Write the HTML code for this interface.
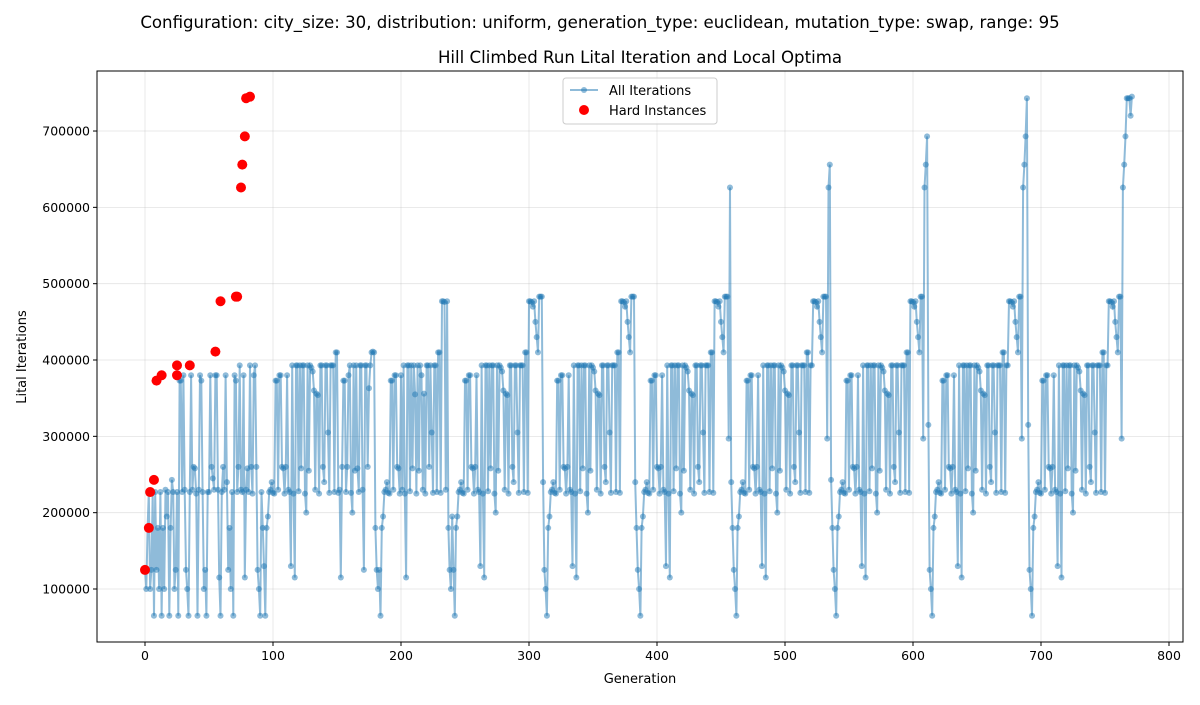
<!DOCTYPE html>
<html><head><meta charset="utf-8"><style>
body{margin:0;background:#fff;font-family:"Liberation Sans","DejaVu Sans",sans-serif}
svg text{font-family:"DejaVu Sans","Liberation Sans",sans-serif}
</style></head><body>
<svg id="chart" width="1200" height="700" xmlns="http://www.w3.org/2000/svg">
<rect width="1200" height="700" fill="#fff"/>
<text x="600" y="28" font-size="16.6" text-anchor="middle">Configuration: city_size: 30, distribution: uniform, generation_type: euclidean, mutation_type: swap, range: 95</text>
<text x="640" y="63" font-size="16.6" text-anchor="middle">Hill Climbed Run Lital Iteration and Local Optima</text>
<g id="grid"></g><g id="series"></g><g id="hard"></g><g id="axes"></g>
<text x="640" y="683" font-size="13" text-anchor="middle">Generation</text>
<text transform="translate(26,357) rotate(-90)" font-size="13" text-anchor="middle">Lital Iterations</text>
<g>
<rect x="563" y="78" width="154" height="46" rx="3" fill="#fff" fill-opacity="0.8" stroke="#ccc"/>
<line x1="570" y1="90" x2="598" y2="90" stroke="#1f77b4" stroke-opacity="0.5" stroke-width="2"/>
<circle cx="584" cy="90" r="3" fill="#1f77b4" fill-opacity="0.5"/>
<text x="609" y="95" font-size="13">All Iterations</text>
<circle cx="584" cy="110" r="5" fill="red"/>
<text x="609" y="115" font-size="13">Hard Instances</text>
</g>
</svg>
<script>
const allValuesK = [
125,100,180,227,100,125,227,65,227,125,180,100,227,65,180,100,230,195,227,65,180,243,227,100,125,227,65,373,373,227,380,230,125,100,65,227,380,230,260,258,225,65,230,380,373,227,100,125,65,227,227,380,260,245,230,380,380,230,115,65,227,260,230,380,240,125,180,100,227,65,380,373,227,260,393,230,227,380,115,230,258,227,393,260,225,380,393,260,125,100,65,227,180,130,
65,180,195,227,230,240,226,225,373,373,230,380,380,260,258,225,260,380,230,227,130,393,225,115,393,393,228,393,258,393,393,225,200,393,255,393,390,385,360,230,356,354,225,393,393,260,240,393,393,305,226,393,393,393,227,410,410,226,230,115,260,373,373,227,260,380,393,226,200,393,255,393,258,227,393,393,230,125,393,393,260,363,393,410,411,410,180,125,100,125,
65,180,195,227,230,240,226,225,373,373,230,380,380,260,258,225,380,230,393,225,115,393,393,228,393,258,393,355,225,393,255,393,380,230,356,225,393,393,260,393,305,226,393,393,227,410,410,226,477,477,476,230,477,180,125,100,195,125,
65,180,195,227,230,240,226,225,373,373,230,380,380,260,258,225,260,380,230,227,130,393,225,115,393,393,228,393,258,393,393,225,200,393,255,393,390,385,360,230,356,354,225,393,393,260,240,393,393,305,226,393,393,393,227,410,410,226,477,477,476,470,477,450,430,410,483,483,483,240,125,100,
65,180,195,227,230,240,226,225,373,373,230,380,380,260,258,225,260,380,230,227,130,393,225,115,393,393,228,393,258,393,393,225,200,393,255,393,390,385,360,230,356,354,225,393,393,260,240,393,393,305,226,393,393,393,227,410,410,226,477,477,476,470,477,450,430,410,483,483,483,240,180,125,100,
65,180,195,227,230,240,226,225,373,373,230,380,380,260,258,225,260,380,230,227,130,393,225,115,393,393,228,393,258,393,393,225,200,393,255,393,390,385,360,230,356,354,225,393,393,260,240,393,393,305,226,393,393,393,227,410,410,226,477,477,476,470,477,450,430,410,483,483,483,297,626,240,180,125,100,
65,180,195,227,230,240,226,225,373,373,230,380,380,260,258,225,260,380,230,227,130,393,225,115,393,393,228,393,258,393,393,225,200,393,255,393,390,385,360,230,356,354,225,393,393,260,240,393,393,305,226,393,393,393,227,410,410,226,393,393,477,477,476,470,477,450,430,410,483,483,483,297,626,656,243,180,125,100,
65,180,195,227,230,240,226,225,373,373,230,380,380,260,258,225,260,380,230,227,130,393,225,115,393,393,228,393,258,393,393,225,200,393,255,393,390,385,360,230,356,354,225,393,393,260,240,393,393,305,226,393,393,393,227,410,410,226,477,477,476,470,477,450,430,410,483,483,297,626,656,693,315,125,100,
65,180,195,227,230,240,226,225,373,373,230,380,380,260,258,225,260,380,230,227,130,393,225,115,393,393,228,393,258,393,393,225,200,393,255,393,390,385,360,230,356,354,225,393,393,260,240,393,393,305,226,393,393,393,227,410,410,226,393,393,477,477,476,470,477,450,430,410,483,483,297,626,656,693,743,315,125,100,
65,180,195,227,230,240,226,225,373,373,230,380,380,260,258,225,260,380,230,227,130,393,225,115,393,393,228,393,258,393,393,225,200,393,255,393,390,385,360,230,356,354,225,393,393,260,240,393,393,305,226,393,393,393,227,410,410,226,393,393,477,477,476,470,477,450,430,410,483,483,297,626,656,693,743,743,743,720,745
];
const hardGen = [0,3,4,7,9,13,25,25,35,55,59,71,72,75,76,78,79,82];
const hardValuesK = [125,180,227,243,373,380,393,380,393,411,477,483,483,626,656,693,743,745];
const xTicks = [0,100,200,300,400,500,600,700,800];
const yTicks = [100000,200000,300000,400000,500000,600000,700000];

const L=97,R=1183,T=71,B=642;
const xs=g=>145+g*1.28;
const ys=v=>589-(v-100000)*76.33/100000;
const NS='http://www.w3.org/2000/svg';
function mk(tag,attrs,parent){const e=document.createElementNS(NS,tag);for(const k in attrs)e.setAttribute(k,attrs[k]);parent.appendChild(e);return e;}
const grid=document.getElementById('grid'),axes=document.getElementById('axes'),ser=document.getElementById('series'),hard=document.getElementById('hard');
xTicks.forEach(t=>{const x=xs(t);
 const gl=mk('line',{x1:x,y1:T,x2:x,y2:B,stroke:'#b0b0b0','stroke-opacity':0.35,'stroke-width':0.8},grid);
 
 
 mk('line',{x1:x,y1:B,x2:x,y2:B+4,stroke:'#000'},axes);
 const tx=mk('text',{x:x,y:B+18,'font-size':12.5,'text-anchor':'middle'},axes);tx.textContent=t;
 
 
});
yTicks.forEach(t=>{const y=ys(t);
 const gl=mk('line',{x1:L,y1:y,x2:R,y2:y,stroke:'#b0b0b0','stroke-opacity':0.35,'stroke-width':0.8},grid);
 
 
 mk('line',{x1:L-4,y1:y,x2:L,y2:y,stroke:'#000'},axes);
 const tx=mk('text',{x:L-7,y:y+4.5,'font-size':12.5,'text-anchor':'end'},axes);tx.textContent=t;
 
 
});
const frame=mk('rect',{x:L,y:T,width:R-L,height:B-T,fill:'none',stroke:'#000','stroke-width':1},axes);


const pts=allValuesK.map((v,i)=>xs(i).toFixed(1)+','+ys(v*1000).toFixed(1)).join(' ');
const pl=mk('polyline',{points:pts,fill:'none',stroke:'#1f77b4','stroke-opacity':0.5,'stroke-width':2},ser);


allValuesK.forEach((v,i)=>{const c=mk('circle',{cx:xs(i),cy:ys(v*1000),r:3,fill:'#1f77b4','fill-opacity':0.5},ser);
 
 
});
hardGen.forEach((g,i)=>{const c=mk('circle',{cx:xs(g),cy:ys(hardValuesK[i]*1000),r:5,fill:'red'},hard);
 
 
});
</script>
</body></html>
